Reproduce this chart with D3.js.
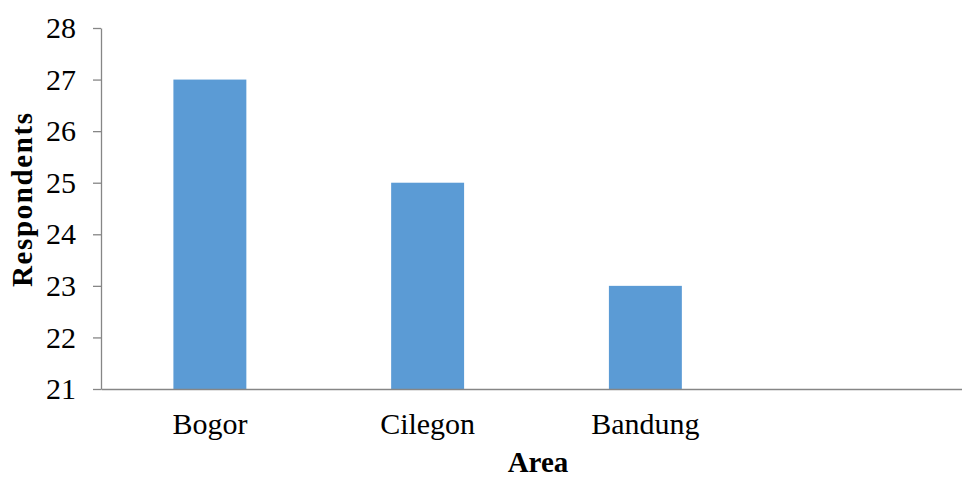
<!DOCTYPE html>
<html>
<head>
<meta charset="utf-8">
<script src="https://cdn.jsdelivr.net/npm/d3@7"></script>
<style>
  html, body { margin: 0; padding: 0; background: #fff; }
  svg { display: block; }
  text { font-family: "Liberation Serif", "Times New Roman", serif; fill: #000; }
</style>
</head>
<body>
<svg id="chart" width="962" height="477"></svg>
<script>
// Respondents per survey area
const categories = ["Bogor", "Cilegon", "Bandung", ""];
const respondents = [27, 25, 23, null];
const yTicks = [21, 22, 23, 24, 25, 26, 27, 28];

const svg = d3.select("#chart");
const plot = { left: 101, right: 972, top: 28, bottom: 389 };

const x = d3.scaleBand()
  .domain(categories)
  .range([plot.left, plot.right])
  .paddingInner(0.665)
  .paddingOuter(0.3325);

const y = d3.scaleLinear()
  .domain([21, 28])
  .range([plot.bottom, plot.top]);

// bars
svg.append("g")
  .selectAll("rect")
  .data(categories.map((c, i) => ({ c, v: respondents[i] })).filter(d => d.v != null))
  .join("rect")
  .attr("x", d => x(d.c))
  .attr("y", d => y(d.v))
  .attr("width", x.bandwidth())
  .attr("height", d => y(21) - y(d.v))
  .attr("fill", "#5B9BD5");

// y axis
const yAxis = svg.append("g")
  .attr("transform", `translate(${plot.left},0)`)
  .call(d3.axisLeft(y).tickValues(yTicks).tickFormat(d3.format("d"))
    .tickSize(8).tickSizeOuter(0).tickPadding(17));
yAxis.select(".domain").attr("stroke", "#868686").attr("stroke-width", 1.3);
yAxis.selectAll(".tick line").attr("stroke", "#868686").attr("stroke-width", 1.3);
yAxis.selectAll(".tick text")
  .attr("font-size", 30)
  .attr("font-family", "Liberation Serif")
  .attr("fill", "#000");

// x axis (labels only, no tick marks)
const xAxis = svg.append("g")
  .attr("transform", `translate(0,${plot.bottom})`)
  .call(d3.axisBottom(x).tickSize(0).tickPadding(24));
xAxis.select(".domain").attr("stroke", "#868686").attr("stroke-width", 1.3);
xAxis.selectAll(".tick text")
  .attr("font-size", 30)
  .attr("font-family", "Liberation Serif")
  .attr("fill", "#000");

// axis titles
svg.append("text")
  .attr("x", 538)
  .attr("y", 472)
  .attr("text-anchor", "middle")
  .attr("font-size", 29)
  .attr("font-weight", "bold")
  .text("Area");

svg.append("text")
  .attr("transform", "translate(32,200) rotate(-90)")
  .attr("text-anchor", "middle")
  .attr("font-size", 29)
  .attr("font-weight", "bold")
  .attr("textLength", 174)
  .attr("lengthAdjust", "spacing")
  .text("Respondents");
</script>
</body>
</html>
